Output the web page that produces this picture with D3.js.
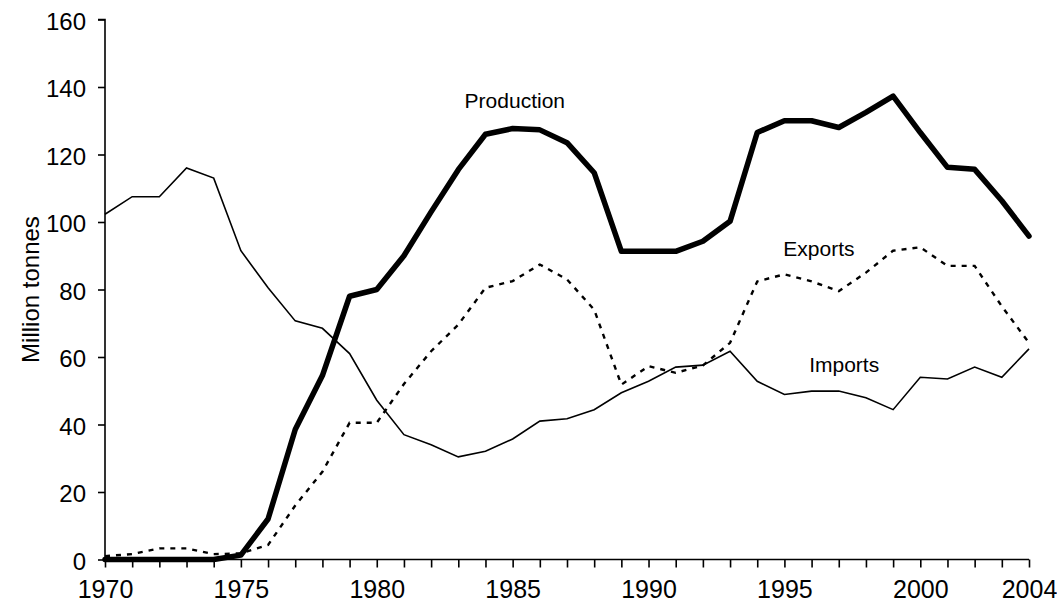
<!DOCTYPE html>
<html>
<head>
<meta charset="utf-8">
<script src="https://cdn.jsdelivr.net/npm/d3@7"></script>
<style>
  html, body { margin: 0; padding: 0; background: #fff; }
  svg { display: block; }
  text { font-family: "Liberation Sans", Arial, sans-serif; fill: #000; }
</style>
</head>
<body>
<svg id="chart" width="1057" height="612"></svg>
<script>
const years = d3.range(1970, 2005);
const production = [0, 0, 0, 0, 0, 1.3, 12, 38.5, 54.5, 78, 80, 90, 103, 115.5, 126, 127.7, 127.3, 123.5, 114.6, 91.3, 91.3, 91.3, 94.3, 100.2, 126.5, 130, 130, 128, 132.5, 137.3, 126.5, 116.2, 115.6, 106.3, 95.8];
const exports = [1, 1.6, 3.3, 3.3, 1.6, 1.8, 4.3, 16, 26, 40.5, 40.5, 52, 61.7, 69.6, 80.5, 82.5, 87.4, 83, 74, 51.8, 57.3, 55.3, 57.5, 64.2, 82.4, 84.5, 82.4, 79.5, 85, 91.5, 92.5, 87, 87, 75, 64.2];
const imports = [102.3, 107.5, 107.5, 116, 113, 91.5, 80.5, 70.7, 68.5, 61, 47.2, 37, 34, 30.4, 32.1, 35.7, 41, 41.7, 44.4, 49.4, 52.8, 57, 57.6, 61.7, 52.8, 48.9, 49.9, 49.9, 47.9, 44.4, 54, 53.5, 57, 54, 62.4];
const yTicks = [0, 20, 40, 60, 80, 100, 120, 140, 160];
const xLabels = [1970, 1975, 1980, 1985, 1990, 1995, 2000, 2004];
const seriesLabels = [
  { name: "Production", year: 1985.08, value: 133.9 },
  { name: "Exports", year: 1996.27, value: 89.8 },
  { name: "Imports", year: 1997.2, value: 55.7 }
];

const svg = d3.select("#chart");
const x = d3.scaleLinear().domain([1970, 2004]).range([105, 1029]);
const y = d3.scaleLinear().domain([0, 160]).range([559.5, 19.5]);

// y axis
const yAxis = d3.axisLeft(y).tickValues(yTicks).tickSize(7).tickPadding(12).tickFormat(d3.format("d"));
const gy = svg.append("g").attr("transform", `translate(${x.range()[0]},0)`).call(yAxis);
gy.select(".domain").attr("stroke", "#000").attr("stroke-width", 1.6).attr("d", `M-7,${y(160)}H0V${y(0)}`);
gy.selectAll(".tick line").attr("stroke", "#000").attr("stroke-width", 1.6);
gy.selectAll(".tick text").style("font-size", "24px").attr("dy", "0.4em")
  .attr("font-family", "Liberation Sans, Arial, sans-serif");

// x axis
const xAxis = d3.axisBottom(x).tickValues(years).tickSize(8).tickPadding(13)
  .tickFormat(d => xLabels.includes(d) ? String(d) : "");
const gx = svg.append("g").attr("transform", `translate(0,${y(0)})`).call(xAxis);
gx.select(".domain").attr("stroke", "#000").attr("stroke-width", 1.6).attr("d", `M${x(1970)},0H${x(2004)}`);
gx.selectAll(".tick line").attr("stroke", "#000").attr("stroke-width", 1.6);
gx.selectAll(".tick text").style("font-size", "25px")
  .attr("font-family", "Liberation Sans, Arial, sans-serif");

// axis title
svg.append("text")
  .attr("transform", `translate(39,${(y(0) + y(160)) / 2}) rotate(-90)`)
  .attr("text-anchor", "middle")
  .style("font-size", "24px")
  .text("Million tonnes");

const line = d3.line().x((d, i) => x(years[i])).y(d => y(d));

svg.append("path").datum(imports)
  .attr("fill", "none").attr("stroke", "#000").attr("stroke-width", 1.6)
  .attr("stroke-linejoin", "miter").attr("d", line);

svg.append("path").datum(exports)
  .attr("fill", "none").attr("stroke", "#000").attr("stroke-width", 2.4)
  .attr("stroke-dasharray", "5,6").attr("d", line);

svg.append("path").datum(production)
  .attr("fill", "none").attr("stroke", "#000").attr("stroke-width", 5.5)
  .attr("stroke-linejoin", "round").attr("stroke-linecap", "round").attr("d", line);

svg.selectAll("text.series").data(seriesLabels).enter().append("text")
  .attr("class", "series")
  .attr("x", d => x(d.year)).attr("y", d => y(d.value))
  .attr("text-anchor", "middle")
  .style("font-size", "21px")
  .text(d => d.name);
</script>
</body>
</html>
